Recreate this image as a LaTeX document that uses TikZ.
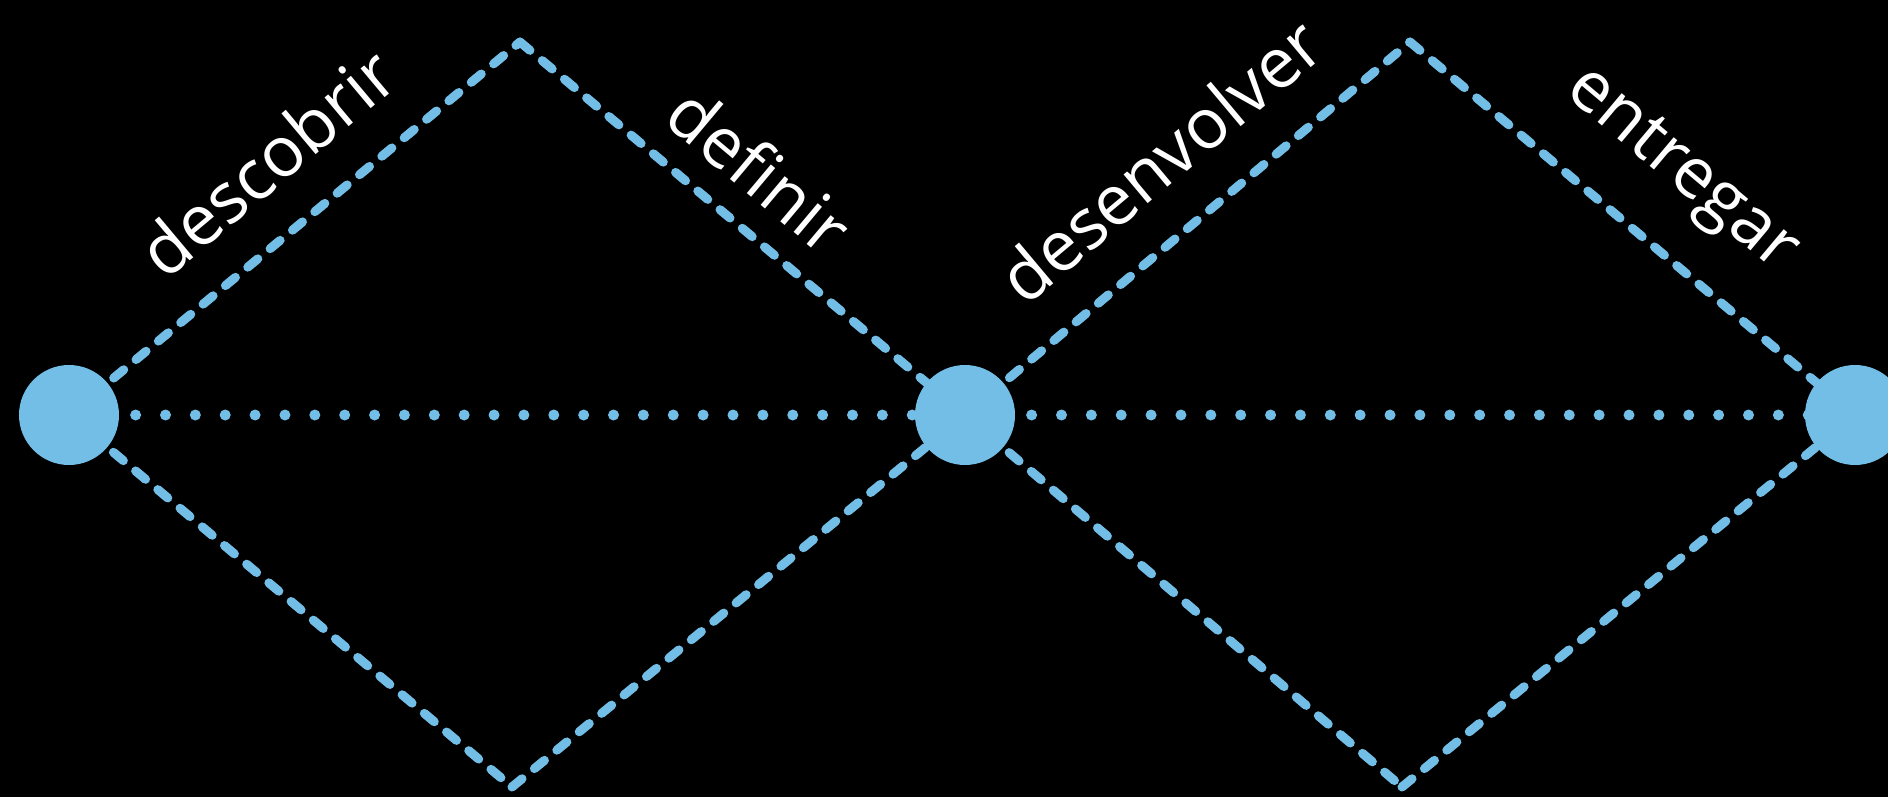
\documentclass[tikz,border=0pt]{standalone}
\usepackage{fontspec}
\setmainfont{Open Sans}
\definecolor{dblue}{RGB}{115,190,230}
\begin{document}
\begin{tikzpicture}[x=1pt,y=-1pt,
  phase/.style={draw=dblue, line width=9pt, line cap=round, dash pattern=on 13pt off 16pt},
  axisline/.style={draw=dblue, line width=11pt, line cap=round, dash pattern=on 0pt off 29.87pt, dash phase=23pt},
  dot/.style={circle, fill=dblue, minimum size=100pt, inner sep=0pt},
  lbl/.style={text=white, font=\fontsize{70}{84}\selectfont, inner sep=0pt}]
\useasboundingbox (0,0) rectangle (1888,797);
\fill[black] (0,0) rectangle (1888,797);
\clip (0,0) rectangle (1888,797);
\coordinate (pL) at (69,415);
\coordinate (pM) at (965,415);
\coordinate (pR) at (1855,415);
\coordinate (T1) at (520,42);
\coordinate (B1) at (512,787);
\coordinate (T2) at (1410,42);
\coordinate (B2) at (1402,787);
\draw[phase] (pL) -- (T1);
\draw[phase] (T1) -- (pM);
\draw[phase] (pL) -- (B1);
\draw[phase] (B1) -- (pM);
\draw[phase] (pM) -- (T2);
\draw[phase] (T2) -- (pR);
\draw[phase] (pM) -- (B2);
\draw[phase] (B2) -- (pR);
\draw[axisline] (pL) -- (pM);
\draw[axisline] (pM) -- (pR);
\node[dot] (L) at (pL) {};
\node[dot] (M) at (pM) {};
\node[dot] (R) at (pR) {};
\node[lbl, rotate=40] (l1) at (267,162) {descobrir};
\node[lbl, rotate=-40] (l2) at (760,170) {definir};
\node[lbl, rotate=40] (l3) at (1160,160) {desenvolver};
\node[lbl, rotate=-40] (l4) at (1680,172) {entregar};
\end{tikzpicture}
\end{document}
